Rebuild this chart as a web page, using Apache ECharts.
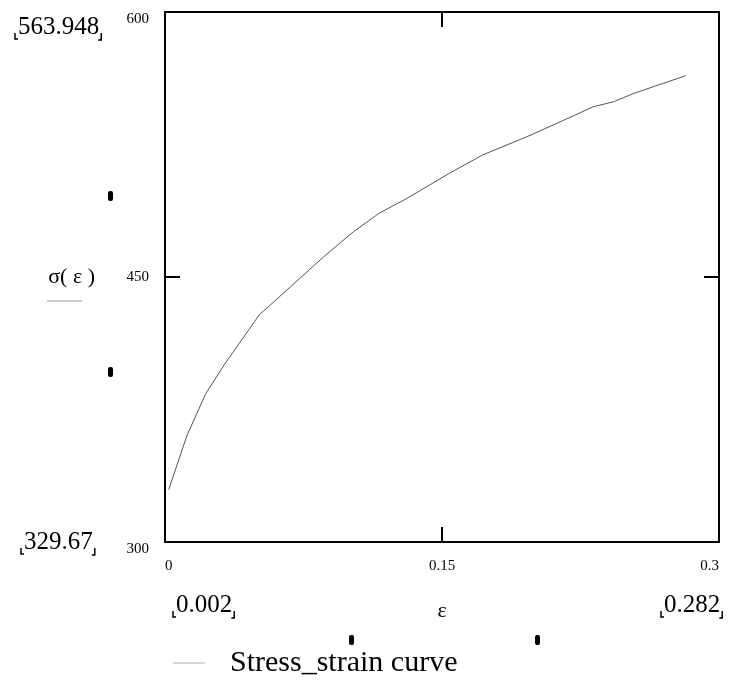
<!DOCTYPE html>
<html>
<head>
<meta charset="utf-8">
<script src="https://cdn.jsdelivr.net/npm/echarts@6/dist/echarts.min.js"></script>
<style>
  html, body { margin: 0; padding: 0; background: #fff; }
  #chart { width: 732px; height: 689px; }
</style>
</head>
<body>
<div id="chart"></div>
<script>
// strain values (x) and stress values (y)
var strain = [0.002, 0.012, 0.022, 0.032, 0.051, 0.066, 0.086, 0.102, 0.116, 0.131,
  0.154, 0.172, 0.196, 0.219, 0.232, 0.243, 0.254, 0.282]
var stress = [329.67, 360.6, 383.8, 400.2, 428.5, 442.6, 461.5, 475.6, 486.1, 494.5,
  508.7, 519.1, 529.4, 540.2, 546.4, 549.2, 554.0, 563.948]
var xTicks = [0, 0.15, 0.3]
var yTicks = [300, 450, 600]
var seriesName = 'Stress_strain curve'

var serif = '"Liberation Serif", "DejaVu Serif", serif'
var chart = echarts.init(document.getElementById('chart'))

var points = []
for (var i = 0; i < strain.length; i++) {
  points.push([strain[i], stress[i]])
}

// measure text so the placeholder corners hug the numbers
var ctx = document.createElement('canvas').getContext('2d')
var limitFont = '25px ' + serif
ctx.font = limitFont

// limit label with the little Mathcad placeholder corners
function limitLabel (txt, x, y) {
  var w = ctx.measureText(txt).width
  var yb = y + 22
  var x0 = x - 3
  var x1 = x + w + 2
  return [
    { type: 'text', left: x, top: y, style: { text: txt, font: limitFont, fill: '#000' } },
    { type: 'polyline', shape: { points: [[x0, yb - 4], [x0, yb + 2], [x0 + 3, yb + 2]] }, style: { stroke: '#000', lineWidth: 1.5, fill: null } },
    { type: 'polyline', shape: { points: [[x1, yb - 4], [x1, yb + 3], [x1 - 3, yb + 3]] }, style: { stroke: '#000', lineWidth: 1.5, fill: null } }
  ]
}

function marker (x, y) {
  return { type: 'rect', shape: { x: x - 2, y: y - 5, width: 5, height: 10, r: 2 }, style: { fill: '#000' } }
}

var graphics = [].concat(
  limitLabel(String(stress[stress.length - 1]), 18, 15),
  limitLabel(String(stress[0]), 24, 530),
  limitLabel(String(strain[0]), 176, 593),
  limitLabel(String(strain[strain.length - 1]), 664, 593),
  [marker(110, 196), marker(110, 372), marker(351, 640), marker(537, 640),
    { type: 'line', shape: { x1: 47, y1: 301, x2: 82, y2: 301 }, style: { stroke: '#999', lineWidth: 1 } }]
)

var frameLine = { show: true, onZero: false, lineStyle: { color: '#000', width: 2 } }
var tickIn = { show: true, inside: true, length: 15, lineStyle: { color: '#000', width: 2 } }

var option = {
  animation: false,
  backgroundColor: '#fff',
  grid: { left: 165, top: 12, right: 13, bottom: 147 },
  legend: {
    left: 168, top: 643,
    icon: 'rect',
    itemWidth: 32, itemHeight: 1,
    data: [seriesName],
    itemStyle: { color: '#aaa' },
    textStyle: { fontFamily: serif, fontSize: 30, color: '#000', padding: [0, 0, 0, 20] }
  },
  xAxis: [
    {
      type: 'value', position: 'bottom', min: xTicks[0], max: xTicks[2], interval: xTicks[1] - xTicks[0],
      axisLine: frameLine, axisTick: tickIn, splitLine: { show: false },
      axisLabel: {
        fontFamily: serif, fontSize: 15, color: '#000', margin: 17,
        alignMinLabel: 'left', alignMaxLabel: 'right',
        formatter: function (v) { return String(+v.toFixed(2)) }
      },
      name: 'ε', nameLocation: 'middle', nameGap: 58,
      nameTextStyle: { fontFamily: serif, fontSize: 22, color: '#000' }
    },
    {
      type: 'value', position: 'top', min: xTicks[0], max: xTicks[2], interval: xTicks[1] - xTicks[0],
      axisLine: frameLine, axisTick: tickIn, axisLabel: { show: false }, splitLine: { show: false }
    }
  ],
  yAxis: [
    {
      type: 'value', position: 'left', min: yTicks[0], max: yTicks[2], interval: yTicks[1] - yTicks[0],
      axisLine: frameLine, axisTick: tickIn, splitLine: { show: false },
      axisLabel: {
        fontFamily: serif, fontSize: 15, color: '#000', margin: 16,
        verticalAlignMinLabel: 'top', verticalAlignMaxLabel: 'top'
      },
      name: 'σ( ε )', nameLocation: 'middle', nameGap: 70, nameRotate: 0,
      nameTextStyle: { fontFamily: serif, fontSize: 22, color: '#000' }
    },
    {
      type: 'value', position: 'right', min: yTicks[0], max: yTicks[2], interval: yTicks[1] - yTicks[0],
      axisLine: frameLine, axisTick: tickIn, axisLabel: { show: false }, splitLine: { show: false }
    }
  ],
  graphic: graphics,
  series: [
    {
      name: seriesName,
      type: 'line',
      data: points,
      symbol: 'none',
      smooth: false,
      lineStyle: { color: '#555', width: 1 },
      itemStyle: { color: '#555' }
    }
  ]
}
chart.setOption(option)
</script>
</body>
</html>
